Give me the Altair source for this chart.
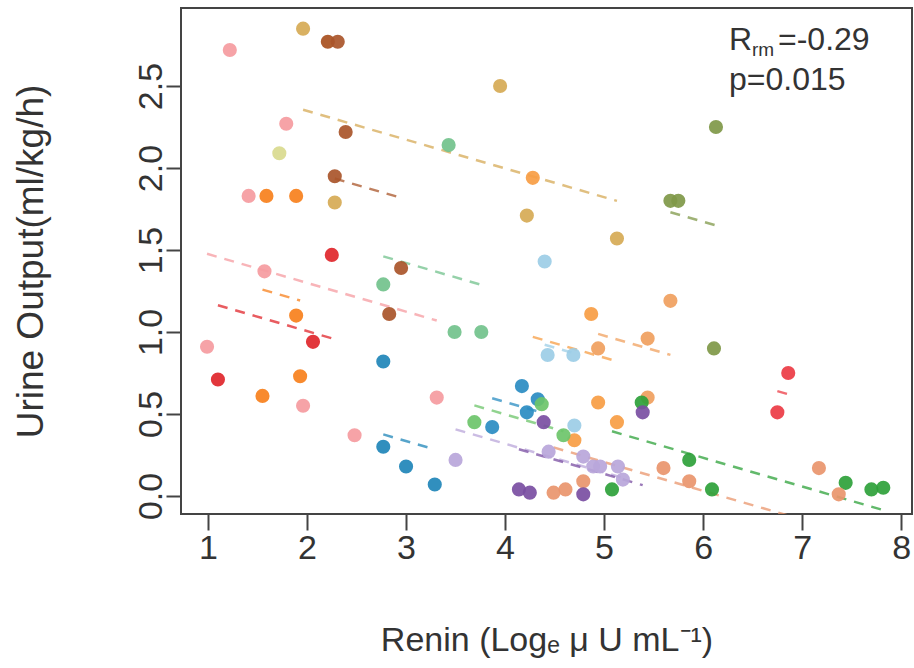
import altair as alt
import pandas as pd
import numpy as np

# ---- data ----
subjects = ["pink", "brown1", "brown2", "khaki", "ygreen", "red1", "orange1",
            "green1", "blue1", "blue2", "lblue", "orange2", "orange3", "olive",
            "red2", "green2", "dgreen", "peach", "lavender", "purple"]
subject_colors = ["#F59BA0", "#A8501F", "#A9552A", "#D6AA55", "#D9DA8E", "#E0262B", "#F7801C",
                  "#72C28C", "#1F86B8", "#2A8CC2", "#9CCDE6", "#F79D44", "#F0A05E", "#7F9848",
                  "#EC3B44", "#6CC46A", "#2EA13A", "#E9956C", "#B9A6DA", "#7A4EA2"]

pt_subject = (["pink"] * 8 + ["brown1"] + ["brown2"] * 5 + ["khaki"] * 5 + ["ygreen"] +
              ["red1"] * 3 + ["orange1"] * 5 + ["green1"] * 4 + ["blue1"] * 4 + ["blue2"] * 4 +
              ["lblue"] * 4 + ["orange2"] * 5 + ["orange3"] * 4 + ["olive"] * 4 + ["red2"] * 2 +
              ["green2"] * 3 + ["dgreen"] * 7 + ["peach"] * 7 + ["lavender"] * 7 + ["purple"] * 5)

renin = [0.99, 1.22, 1.41, 1.57, 1.79, 1.96, 2.48, 3.31,
         2.21,
         2.28, 2.31, 2.39, 2.83, 2.95,
         1.96, 2.28, 3.95, 4.22, 5.13,
         1.72,
         1.10, 2.06, 2.25,
         1.59, 1.89, 1.89, 1.93, 1.55,
         3.43, 2.77, 3.49, 3.76,
         2.77, 2.77, 3.00, 3.29,
         3.87, 4.17, 4.22, 4.33,
         4.40, 4.43, 4.69, 4.70,
         4.28, 4.87, 4.94, 4.70, 5.13,
         4.94, 5.44, 5.67, 5.44,
         5.67, 5.75, 6.13, 6.11,
         6.75, 6.86,
         3.69, 4.37, 4.59,
         5.38, 5.08, 5.86, 6.09, 7.44, 7.70, 7.82,
         4.49, 4.61, 4.79, 5.60, 5.86, 7.17, 7.37,
         3.50, 4.44, 4.79, 4.89, 4.96, 5.14, 5.19,
         4.14, 4.25, 4.39, 4.79, 5.39]

urine = [0.91, 2.72, 1.83, 1.37, 2.27, 0.55, 0.37, 0.60,
         2.77,
         1.95, 2.77, 2.22, 1.11, 1.39,
         2.85, 1.79, 2.50, 1.71, 1.57,
         2.09,
         0.71, 0.94, 1.47,
         1.83, 1.83, 1.10, 0.73, 0.61,
         2.14, 1.29, 1.00, 1.00,
         0.82, 0.30, 0.18, 0.07,
         0.42, 0.67, 0.51, 0.59,
         1.43, 0.86, 0.86, 0.43,
         1.94, 1.11, 0.57, 0.34, 0.45,
         0.90, 0.96, 1.19, 0.60,
         1.80, 1.80, 2.25, 0.90,
         0.51, 0.75,
         0.45, 0.56, 0.37,
         0.57, 0.04, 0.22, 0.04, 0.08, 0.04, 0.05,
         0.02, 0.04, 0.09, 0.17, 0.09, 0.17, 0.01,
         0.22, 0.27, 0.24, 0.18, 0.18, 0.18, 0.10,
         0.04, 0.02, 0.45, 0.01, 0.51]

x_ticks = [1, 2, 3, 4, 5, 6, 7, 8]
y_ticks = [0.0, 0.5, 1.0, 1.5, 2.0, 2.5]
r_label = ["R", "rm", "=-0.29"]
p_label = "p=0.015"

# ---- repeated-measures correlation fit (common slope, subject intercepts) ----
df = pd.DataFrame({"subject": pt_subject, "renin": renin, "urine": urine})
df["xm"] = df.groupby("subject")["renin"].transform("mean")
df["ym"] = df.groupby("subject")["urine"].transform("mean")
slope = ((df.renin - df.xm) * (df.urine - df.ym)).sum() / ((df.renin - df.xm) ** 2).sum()

rows = []
for s, g in df.groupby("subject"):
    if len(g) < 2:
        continue
    xm, ym = g.renin.mean(), g.urine.mean()
    for xv in (g.renin.min(), g.renin.max()):
        rows.append({"subject": s, "renin": xv, "urine": ym + slope * (xv - xm)})
lines_df = pd.DataFrame(rows)

FONT = "Liberation Sans"
TXT = "#333333"

xscale = alt.Scale(domain=[0.727, 8.11], nice=False, zero=False)
yscale = alt.Scale(domain=[-0.11, 2.976], nice=False, zero=False)
cscale = alt.Scale(domain=subjects, range=subject_colors)

xaxis = alt.Axis(values=x_ticks, format="d", tickSize=16, labelFontSize=34, labelPadding=1,
                 title="Renin (Logₑ μ U mL⁻¹)", titleFontSize=34, titleY=136,
                 titleBaseline="alphabetic")
yaxis = alt.Axis(values=y_ticks, format=".1f", tickSize=15, labelFontSize=34, labelAngle=270,
                 labelAlign="center", labelBaseline="alphabetic", labelPadding=5,
                 title="Urine Output(ml/kg/h)", titleFontSize=37, titleAngle=270,
                 titleX=-139, titleY=253, titleBaseline="alphabetic")

lines = alt.Chart(lines_df).mark_line(strokeDash=[10, 8], strokeWidth=2.5, opacity=0.75, clip=True).encode(
    x=alt.X("renin:Q", scale=xscale, axis=xaxis),
    y=alt.Y("urine:Q", scale=yscale, axis=yaxis),
    color=alt.Color("subject:N", scale=cscale, legend=None),
    detail="subject:N",
)

points = alt.Chart(df).mark_circle(size=200, opacity=0.92).encode(
    x=alt.X("renin:Q", scale=xscale, axis=xaxis),
    y=alt.Y("urine:Q", scale=yscale, axis=yaxis),
    color=alt.Color("subject:N", scale=cscale, legend=None),
)

def label(txt, px, py, size):
    return alt.Chart(pd.DataFrame({"t": [txt]})).mark_text(
        align="left", baseline="alphabetic", font=FONT, fontSize=size, color=TXT
    ).encode(x=alt.value(px), y=alt.value(py), text="t:N")

texts = [
    label(r_label[0], 548, 42, 32),
    label(r_label[1], 571, 48, 19),
    label(r_label[2], 597, 42, 32),
    label(p_label, 548, 82, 32),
]

chart = alt.layer(lines, points, *texts).properties(
    width=731, height=506,
    padding={"left": 181, "top": 8, "right": 2, "bottom": 154},
    autosize=alt.AutoSizeParams(type="none"),
).configure_view(
    stroke="#444444", strokeWidth=2
).configure_axis(
    grid=False, domain=False, tickColor="#444444", tickWidth=2,
    labelFont=FONT, titleFont=FONT, labelColor=TXT, titleColor=TXT,
    titleFontWeight="normal",
)

chart.save("out.html", embed_options={"renderer": "svg", "actions": False})
